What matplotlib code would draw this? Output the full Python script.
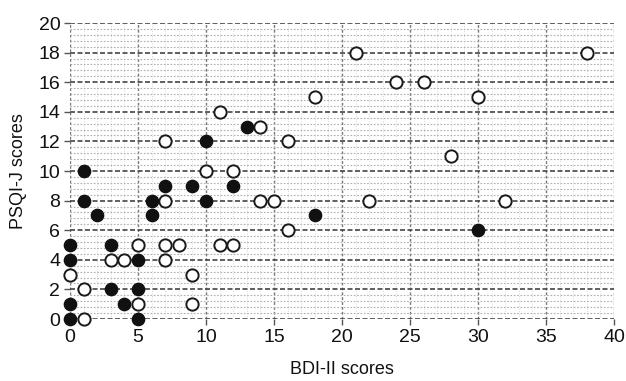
import matplotlib
matplotlib.use("Agg")
import matplotlib.pyplot as plt
from matplotlib.ticker import MultipleLocator

plt.rcParams['font.family'] = ['Liberation Sans', 'DejaVu Sans']

# open circles
open_x = [7, 10, 12, 11, 14, 16, 21, 24, 26, 18, 28, 38, 30, 14, 15, 22, 16, 32,
          7, 5, 7, 8, 11, 12, 3, 4, 7, 0, 9, 1, 5, 9, 1]
open_y = [12, 10, 10, 14, 13, 12, 18, 16, 16, 15, 11, 18, 15, 8, 8, 8, 6, 8,
          8, 5, 5, 5, 5, 5, 4, 4, 4, 3, 3, 2, 1, 1, 0]
# filled circles
fill_x = [1, 7, 9, 12, 1, 6, 10, 2, 6, 0, 3, 0, 5, 3, 5, 0, 4, 0, 5, 10, 13, 18, 30]
fill_y = [10, 9, 9, 9, 8, 8, 8, 7, 7, 5, 5, 4, 4, 2, 2, 1, 1, 0, 0, 12, 13, 7, 6]

xticks = [0, 5, 10, 15, 20, 25, 30, 35, 40]
yticks = [0, 2, 4, 6, 8, 10, 12, 14, 16, 18, 20]

fig = plt.figure(figsize=(6.26, 3.81), dpi=100)
ax = fig.add_axes([70/626, 1-319/381, 544/626, 296/381])
ax.set_xlim(0, 40)
ax.set_ylim(0, 20)
ax.set_xticks(xticks)
ax.set_yticks(yticks)
ax.xaxis.set_minor_locator(MultipleLocator(1))
ax.yaxis.set_minor_locator(MultipleLocator(0.4))
for s in ax.spines.values():
    s.set_visible(False)
ax.tick_params(which='major', length=4, width=1.0, color='#555555',
               labelsize=14, labelcolor='#111111', pad=3)
ax.tick_params(which='minor', length=0)

ax.grid(which='major', axis='y', color='#444444', linestyle=(0, (3, 1.5)), linewidth=1.2)
ax.grid(which='minor', axis='y', color='#b0b0b0', linestyle=(0, (1.5, 1.5)), linewidth=0.8)
ax.grid(which='major', axis='x', color='#777777', linestyle=(0, (2, 1.5)), linewidth=1.0)
ax.grid(which='minor', axis='x', color='#cccccc', linestyle=(0, (1, 2)), linewidth=0.6)
ax.set_axisbelow(True)

ax.scatter(open_x, open_y, s=78, facecolors='white', edgecolors='#1a1a1a',
           linewidths=1.4, clip_on=False, zorder=3)
ax.scatter(fill_x, fill_y, s=78, facecolors='#111111', edgecolors='#111111',
           linewidths=1.0, clip_on=False, zorder=4)

ax.set_xlabel('BDI-II scores', fontsize=13, color='#111111', labelpad=11)
ax.set_ylabel('PSQI-J scores', fontsize=13, color='#111111', labelpad=8)

fig.savefig('out.png', dpi=100)
